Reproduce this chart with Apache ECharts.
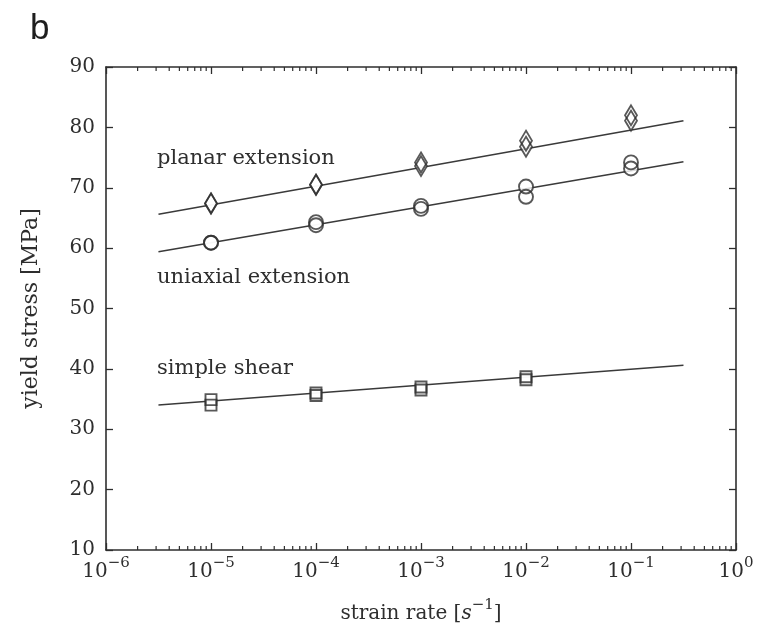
<!DOCTYPE html>
<html>
<head>
<meta charset="utf-8">
<script src="https://cdn.jsdelivr.net/npm/echarts@6.0.0/dist/echarts.min.js"></script>
<style>
  html, body { margin: 0; padding: 0; background: #fff; }
  #chart { width: 770px; height: 634px; }
</style>
</head>
<body>
<div id="chart"></div>
<script>
// Strain rates tested [1/s]
const rates = [1e-5, 1e-4, 1e-3, 1e-2, 1e-1];
const shearRates = [1e-5, 1e-4, 1e-3, 1e-2];

// Yield stress [MPa], two repeat measurements per rate
const planarRun1 = [67.4, 70.5, 74.2, 77.8, 82.0];
const planarRun2 = [67.4, 70.5, 73.6, 76.8, 81.1];
const uniaxialRun1 = [60.9, 64.3, 67.0, 70.2, 74.2];
const uniaxialRun2 = [60.9, 63.8, 66.5, 68.5, 73.2];
const shearRun1 = [34.9, 36.0, 37.0, 38.7];
const shearRun2 = [34.0, 35.6, 36.5, 38.2];

// Fitted trend lines (end points)
const fitRates = [3.16e-6, 0.316];
const planarFit = [65.6, 81.1];
const uniaxialFit = [59.4, 74.3];
const shearFit = [34.0, 40.6];

// Axis ranges and minor log ticks
const xMin = 1e-6, xMax = 1;
const yMin = 10, yMax = 90, yStep = 10;
const minorMultipliers = [2, 3, 4, 5, 6, 7, 8, 9];
const decades = [1e-6, 1e-5, 1e-4, 1e-3, 1e-2, 1e-1];

const serif = '"DejaVu Serif", "Liberation Serif", serif';
const ink = '#2e2e2e';

const pairs = (xs, ys) => xs.map((x, i) => [x, ys[i]]);
const minorTicks = [];
decades.forEach(d => minorMultipliers.forEach(m => minorTicks.push([m * d])));

function supText(n) {
  return String(n).replace('-', '\u2212');
}

const groups = [
  { name: 'planar', xs: rates, runs: [planarRun1, planarRun2], fit: planarFit, symbol: 'diamond', size: [12, 20] },
  { name: 'uniaxial', xs: rates, runs: [uniaxialRun1, uniaxialRun2], fit: uniaxialFit, symbol: 'circle', size: 14 },
  { name: 'shear', xs: shearRates, runs: [shearRun1, shearRun2], fit: shearFit, symbol: 'rect', size: [11, 11] }
];

const series = [];
groups.forEach(g => {
  series.push({
    name: g.name + ' fit', type: 'line', data: pairs(fitRates, g.fit),
    symbol: 'none', silent: true, z: 2,
    lineStyle: { color: '#3a3a3a', width: 1.5 }
  });
});
// white backing so the fit line does not show through the markers
groups.forEach(g => {
  g.runs.forEach((run, k) => {
    series.push({
      name: g.name + ' fill ' + k, type: 'scatter', data: pairs(g.xs, run),
      symbol: g.symbol, symbolSize: g.size, silent: true, z: 3,
      itemStyle: { color: '#fff', borderWidth: 0 }
    });
  });
});
groups.forEach(g => {
  g.runs.forEach((run, k) => {
    series.push({
      name: g.name + ' ' + k, type: 'scatter', data: pairs(g.xs, run),
      symbol: g.symbol, symbolSize: g.size, silent: true, z: 4,
      itemStyle: { color: 'rgba(0,0,0,0)', borderColor: ink, borderWidth: 1.9 }
    });
  });
});
// minor log ticks on bottom and top edges
series.push({
  name: 'minor ticks', type: 'custom', data: minorTicks, silent: true, clip: false, z: 5,
  renderItem: function (params, api) {
    const x = api.value(0);
    const b = api.coord([x, yMin]);
    const t = api.coord([x, yMax]);
    const st = { stroke: ink, lineWidth: 1.2 };
    return {
      type: 'group', children: [
        { type: 'line', shape: { x1: b[0], y1: b[1], x2: b[0], y2: b[1] - 4 }, style: st },
        { type: 'line', shape: { x1: t[0], y1: t[1], x2: t[0], y2: t[1] + 4 }, style: st }
      ]
    };
  }
});

const axisLine = { show: true, lineStyle: { color: ink, width: 1.6 } };
const tick = { show: true, inside: true, length: 7, lineStyle: { color: ink, width: 1.3 } };

const option = {
  animation: false,
  backgroundColor: '#fff',
  grid: { left: 106, right: 34, top: 67, bottom: 84, containLabel: false },
  xAxis: [
    {
      type: 'log', logBase: 10, min: xMin, max: xMax, interval: 1, position: 'bottom',
      axisLine, axisTick: tick, splitLine: { show: false },
      axisLabel: {
        margin: 6,
        formatter: v => '{b|10}{s|' + supText(Math.round(Math.log10(v))) + '}',
        rich: {
          b: { fontFamily: serif, fontSize: 20, color: ink, lineHeight: 26, verticalAlign: 'bottom' },
          s: { fontFamily: serif, fontSize: 15, color: ink, lineHeight: 15, verticalAlign: 'top' }
        }
      },
      name: '{n|strain rate [}{i|s}{sup|\u22121}{n|]}',
      nameLocation: 'middle', nameGap: 48,
      nameTextStyle: {
        rich: {
          n: { fontFamily: serif, fontSize: 20, color: ink, lineHeight: 26, verticalAlign: 'bottom' },
          i: { fontFamily: serif, fontSize: 20, fontStyle: 'italic', color: ink, lineHeight: 26, verticalAlign: 'bottom' },
          sup: { fontFamily: serif, fontSize: 15, color: ink, lineHeight: 15, verticalAlign: 'top' }
        }
      }
    },
    {
      type: 'log', logBase: 10, min: xMin, max: xMax, interval: 1, position: 'top',
      axisLine, axisTick: tick, axisLabel: { show: false }, splitLine: { show: false }
    }
  ],
  yAxis: [
    {
      type: 'value', min: yMin, max: yMax, interval: yStep, position: 'left',
      axisLine, axisTick: tick, splitLine: { show: false },
      axisLabel: { margin: 11, fontFamily: serif, fontSize: 20, color: ink },
      name: 'yield stress [MPa]', nameLocation: 'middle', nameGap: 64,
      nameTextStyle: { fontFamily: serif, fontSize: 22, color: ink }
    },
    {
      type: 'value', min: yMin, max: yMax, interval: yStep, position: 'right',
      axisLine, axisTick: tick, axisLabel: { show: false }, splitLine: { show: false }
    }
  ],
  graphic: [
    { type: 'text', left: 30, top: 12, style: { text: 'b', fontFamily: '"Liberation Sans", Arial, sans-serif', fontSize: 35, fill: '#1e1e1e' } },
    { type: 'text', x: 157, y: 159, style: { text: 'planar extension', fontFamily: serif, fontSize: 21, fill: ink, verticalAlign: 'middle' } },
    { type: 'text', x: 157, y: 278, style: { text: 'uniaxial extension', fontFamily: serif, fontSize: 21, fill: ink, verticalAlign: 'middle' } },
    { type: 'text', x: 157, y: 369, style: { text: 'simple shear', fontFamily: serif, fontSize: 21, fill: ink, verticalAlign: 'middle' } }
  ],
  series: series
};

const chart = echarts.init(document.getElementById('chart'), null, { renderer: 'canvas' });
chart.setOption(option);
</script>
</body>
</html>
